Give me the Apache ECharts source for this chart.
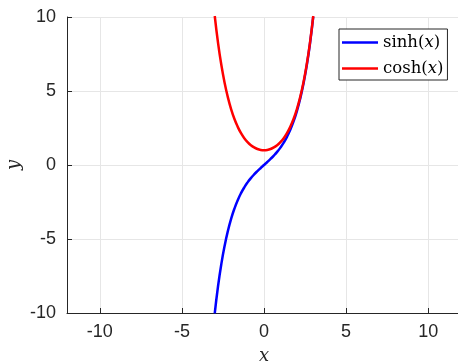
<!DOCTYPE html>
<html><head><meta charset="utf-8">
<script src="https://cdn.jsdelivr.net/npm/echarts@6/dist/echarts.min.js"></script>
<style>html,body{margin:0;padding:0;background:#fff}#c{width:458px;height:364px}</style>
</head><body><div id="c"></div>
<script>
const xValues = [-3.0,-2.8,-2.6,-2.4,-2.2,-2.0,-1.8,-1.6,-1.4,-1.2,-1.0,-0.8,-0.6,-0.4,-0.2,0.0,0.2,0.4,0.6,0.8,1.0,1.2,1.4,1.6,1.8,2.0,2.2,2.4,2.6,2.8,3.0];
const sinhValues = [-10.0179,-8.1919,-6.6947,-5.4662,-4.4571,-3.6269,-2.9422,-2.3756,-1.9043,-1.5095,-1.1752,-0.8881,-0.6367,-0.4108,-0.2013,0,0.2013,0.4108,0.6367,0.8881,1.1752,1.5095,1.9043,2.3756,2.9422,3.6269,4.4571,5.4662,6.6947,8.1919,10.0179];
const coshValues = [10.0677,8.2527,6.7690,5.5569,4.5679,3.7622,3.1075,2.5775,2.1509,1.8107,1.5431,1.3374,1.1855,1.0811,1.0201,1.0,1.0201,1.0811,1.1855,1.3374,1.5431,1.8107,2.1509,2.5775,3.1075,3.7622,4.5679,5.5569,6.7690,8.2527,10.0677];
const xTicks = [-10,-5,0,5,10];
const yTicks = [-10,-5,0,5,10];
const seriesNames = ['sinh', 'cosh'];

const chart = echarts.init(document.getElementById('c'), null, {renderer:'canvas'});
const labelStyle = {color:'#262626', fontFamily:'Liberation Sans', fontSize:18};
const nameStyle = {fontFamily:'DejaVu Serif', fontStyle:'italic', fontSize:18, color:'#262626'};
const mk = (name, vals, color) => ({
  name: name, type:'line', symbol:'none', smooth:true,
  data: xValues.map((x,i)=>[x, vals[i]]),
  lineStyle:{color:color, width:2.5}, itemStyle:{color:color}, clip:true
});
chart.setOption({
  animation:false,
  grid:{left:67, top:17, width:394, height:296, containLabel:false, outerBoundsMode:'none'},
  xAxis:{
    type:'value', min:-12, max:12, name:'x', nameLocation:'middle', nameGap:34, nameMoveOverlap:false, nameTextStyle:nameStyle,
    axisLine:{show:true, onZero:false, lineStyle:{color:'#262626', width:1}},
    axisTick:{show:true, inside:true, length:5, customValues:xTicks, lineStyle:{color:'#262626'}},
    axisLabel:Object.assign({margin:10, customValues:xTicks}, labelStyle),
    splitLine:{show:true, lineStyle:{color:'#e6e6e6', width:1}}
  },
  yAxis:{
    type:'value', min:-10, max:10, interval:5, name:'y', nameLocation:'middle', nameGap:44, nameMoveOverlap:false, nameRotate:90, nameTextStyle:nameStyle,
    axisLine:{show:true, onZero:false, lineStyle:{color:'#262626', width:1}},
    axisTick:{show:true, inside:true, length:5, customValues:yTicks, lineStyle:{color:'#262626'}},
    axisLabel:Object.assign({margin:11, customValues:yTicks}, labelStyle),
    splitLine:{show:true, lineStyle:{color:'#e6e6e6', width:1}}
  },
  legend:{
    left:339, top:29, orient:'vertical', icon:'rect', itemWidth:36, itemHeight:2.5, itemGap:9,
    padding:[5,4,3,3], borderColor:'#262626', borderWidth:1, backgroundColor:'#fff',
    data: seriesNames,
    formatter: n => '{t|' + n + '(}{i|x}{t|)}',
    textStyle:{rich:{
      t:{fontFamily:'DejaVu Serif', fontSize:16.5, color:'#000'},
      i:{fontFamily:'DejaVu Serif', fontStyle:'italic', fontSize:16.5, color:'#000'}
    }}
  },
  series:[mk(seriesNames[0], sinhValues, '#0000ff'), mk(seriesNames[1], coshValues, '#ff0000')]
});
</script></body></html>
